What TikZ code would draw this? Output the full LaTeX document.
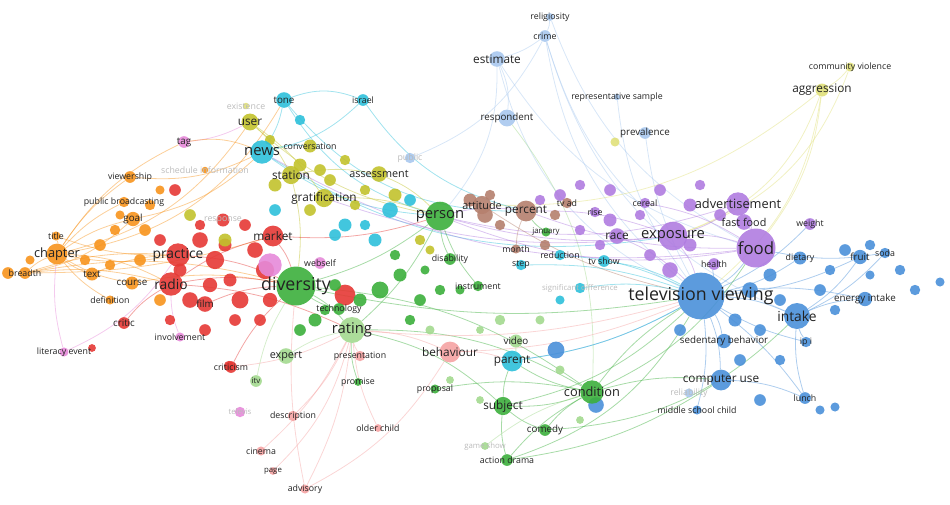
\documentclass[tikz,border=0pt]{standalone}
\usepackage{fontspec}
\setmainfont{Open Sans}
\usetikzlibrary{backgrounds}
\definecolor{cR}{HTML}{E53935}\definecolor{cG}{HTML}{3CAF3C}\definecolor{cB}{HTML}{4A90D9}
\definecolor{cY}{HTML}{C2C22C}\definecolor{cP}{HTML}{B07CE0}\definecolor{cC}{HTML}{2EC0DA}
\definecolor{cO}{HTML}{F7941D}\definecolor{cBr}{HTML}{B5806E}\definecolor{cPk}{HTML}{E68AD9}
\definecolor{cLP}{HTML}{F5A3A3}\definecolor{cLG}{HTML}{A3D98F}\definecolor{cLB}{HTML}{A8C8EE}
\definecolor{cLY}{HTML}{E0E07A}\definecolor{txt}{HTML}{222222}\definecolor{fad}{HTML}{BBBBBB}
\tikzset{dot/.style={circle,inner sep=0pt,draw=none,fill opacity=0.9},
 lbl/.style={text=txt,inner sep=0pt},
 edge/.style={line width=0.8pt,draw opacity=0.45}}
\newcommand\nd[7]{\node[dot,fill=#5,minimum size={1.3*#4pt}] (#1) at (#2,#3) {};
 \node[lbl,font=\fontsize{#7.8}{#7}\selectfont] (#1l) at (#2,#3) {#6};}
\newcommand\smd[4]{\node[dot,fill=#4,minimum size={1.3*#3pt}] at (#1,#2) {};}
\newcommand\edg[4]{\draw[edge,draw=#3] (#1) to[bend left=#4] (#2);}
\begin{document}
\begin{tikzpicture}[x=1pt,y=-1pt]
\useasboundingbox (0,0) rectangle (950,504);
\smd{200}{240}{12}{cR}\smd{215}{260}{14}{cR}\smd{230}{280}{10}{cR}\smd{190}{300}{12}{cR}\smd{240}{300}{13}{cR}\smd{255}{250}{12}{cR}\smd{265}{270}{14}{cR}\smd{225}{245}{10}{cR}\smd{210}{285}{11}{cR}\smd{180}{270}{10}{cR}\smd{245}{225}{9}{cR}\smd{200}{225}{8}{cR}\smd{270}{300}{11}{cR}\smd{235}{320}{9}{cR}\smd{160}{240}{9}{cR}\smd{170}{320}{8}{cR}\smd{205}{330}{9}{cR}\smd{260}{320}{9}{cR}\smd{345}{295}{16}{cR}\smd{175}{190}{9}{cR}\smd{92}{348}{6}{cR}\smd{229}{366}{8}{cR}
\smd{100}{245}{9}{cO}\smd{115}{230}{8}{cO}\smd{145}{230}{9}{cO}\smd{85}{260}{8}{cO}\smd{150}{205}{8}{cO}\smd{160}{190}{7}{cO}\smd{110}{265}{8}{cO}\smd{30}{260}{7}{cO}\smd{140}{260}{9}{cO}\smd{120}{215}{7}{cO}\smd{8}{273}{9}{cO}\smd{160}{300}{9}{cO}
\smd{380}{290}{13}{cG}\smd{400}{275}{10}{cG}\smd{420}{300}{9}{cG}\smd{410}{320}{8}{cG}\smd{440}{290}{8}{cG}\smd{360}{300}{10}{cG}\smd{335}{285}{9}{cG}\smd{325}{310}{8}{cG}\smd{300}{330}{9}{cG}\smd{395}{255}{8}{cG}\smd{460}{290}{7}{cG}\smd{425}{270}{7}{cG}\smd{315}{320}{10}{cG}
\smd{300}{165}{10}{cY}\smd{330}{180}{9}{cY}\smd{345}{160}{8}{cY}\smd{320}{170}{9}{cY}\smd{275}{185}{10}{cY}\smd{310}{210}{9}{cY}\smd{355}{205}{8}{cY}\smd{365}{190}{8}{cY}\smd{395}{195}{10}{cY}\smd{420}{240}{8}{cY}\smd{430}{250}{7}{cY}\smd{270}{140}{8}{cY}\smd{225}{240}{10}{cY}\smd{190}{215}{9}{cY}\smd{615}{142}{7}{cLY}
\smd{390}{210}{12}{cC}\smd{410}{200}{9}{cC}\smd{375}{240}{10}{cC}\smd{345}{225}{10}{cC}\smd{335}{235}{9}{cC}\smd{365}{225}{8}{cC}\smd{300}{120}{8}{cC}\smd{275}{210}{9}{cC}\smd{560}{300}{7}{cC}
\smd{560}{195}{9}{cP}\smd{580}{185}{8}{cP}\smd{610}{190}{9}{cP}\smd{640}{215}{8}{cP}\smd{660}{190}{9}{cP}\smd{690}{205}{10}{cP}\smd{700}{185}{8}{cP}\smd{720}{215}{9}{cP}\smd{610}{220}{10}{cP}\smd{580}{230}{8}{cP}\smd{650}{255}{9}{cP}\smd{690}{245}{10}{cP}\smd{540}{200}{8}{cP}\smd{600}{245}{8}{cP}\smd{270}{265}{18}{cPk}\smd{670}{270}{12}{cP}
\smd{750}{290}{12}{cB}\smd{770}{275}{10}{cB}\smd{780}{300}{9}{cB}\smd{820}{290}{9}{cB}\smd{830}{270}{8}{cB}\smd{845}{250}{9}{cB}\smd{870}{245}{8}{cB}\smd{900}{270}{8}{cB}\smd{915}{290}{8}{cB}\smd{760}{330}{9}{cB}\smd{735}{320}{10}{cB}\smd{740}{360}{9}{cB}\smd{780}{360}{8}{cB}\smd{835}{310}{8}{cB}\smd{680}{330}{9}{cB}\smd{820}{410}{7}{cB}\smd{760}{400}{9}{cB}\smd{870}{275}{7}{cB}\smd{556}{350}{13}{cB}\smd{596}{405}{12}{cB}\smd{940}{282}{7}{cB}\smd{835}{407}{7}{cB}
\smd{470}{200}{10}{cBr}\smd{485}{215}{12}{cBr}\smd{500}{225}{8}{cBr}\smd{490}{195}{8}{cBr}\smd{545}{245}{8}{cBr}\smd{555}{215}{8}{cBr}
\smd{500}{320}{8}{cLG}\smd{480}{330}{6}{cLG}\smd{540}{320}{7}{cLG}\smd{560}{370}{7}{cLG}\smd{580}{420}{6}{cLG}\smd{480}{400}{6}{cLG}\smd{450}{380}{6}{cLG}\smd{430}{330}{7}{cLG}
\nd{religiosity}{550}{17}{6}{cLB}{religiosity}{8}
\nd{crime}{545}{36}{9}{cLB}{crime}{8}
\nd{estimate}{497}{59}{12}{cLB}{estimate}{11}
\nd{repsample}{617}{97}{5}{cLB}{representative sample}{8}
\nd{respondent}{507}{118}{13}{cLB}{respondent}{9}
\nd{prevalence}{645}{133}{9}{cLB}{prevalence}{9}
\nd{public}{410}{158}{8}{cLB}{\textcolor{fad}{public}}{8}
\nd{commviol}{850}{67}{7}{cLY}{community violence}{8}
\nd{aggression}{822}{90}{10}{cLY}{aggression}{11}
\nd{tone}{284}{100}{12}{cC}{tone}{9}
\nd{israel}{363}{100}{9}{cC}{israel}{8}
\nd{existence}{246}{106}{5}{cLY}{\textcolor{fad}{existence}}{8}
\nd{user}{250}{122}{13}{cY}{user}{11}
\nd{tag}{184}{142}{9}{cPk}{tag}{9}
\nd{news}{262}{152}{18}{cC}{news}{14}
\nd{conversation}{310}{146}{10}{cY}{conversation}{8}
\nd{schedinfo}{205}{170}{5}{cO}{\textcolor{fad}{schedule information}}{8}
\nd{station}{291}{175}{14}{cY}{station}{11}
\nd{assessment}{379}{174}{12}{cY}{assessment}{10}
\nd{gratification}{324}{198}{14}{cY}{gratification}{11}
\nd{viewership}{130}{177}{9}{cO}{viewership}{8}
\nd{pubbroad}{124}{202}{8}{cO}{public broadcasting}{8}
\nd{goal}{133}{219}{11}{cO}{goal}{9}
\nd{response}{223}{220}{10}{cR}{\textcolor{fad}{response}}{8}
\nd{title}{56}{236}{7}{cO}{title}{8}
\nd{chapter}{57}{254}{16}{cO}{chapter}{12}
\nd{breadth}{25}{273}{9}{cO}{breadth}{8}
\nd{txtnode}{92}{274}{10}{cO}{text}{9}
\nd{practice}{178}{255}{18}{cR}{practice}{13}
\nd{course}{132}{283}{10}{cO}{course}{9}
\nd{radio}{171}{284}{18}{cR}{radio}{13}
\nd{definition}{110}{300}{7}{cO}{definition}{8}
\nd{market}{273}{236}{16}{cR}{market}{11}
\nd{diversity}{296}{286}{30}{cG}{diversity}{17}
\nd{webself}{320}{263}{9}{cPk}{webself}{8}
\nd{film}{205}{304}{12}{cR}{film}{9}
\nd{critic}{124}{323}{9}{cR}{critic}{9}
\nd{litevent}{64}{352}{7}{cPk}{literacy event}{8}
\nd{involvement}{180}{337}{7}{cPk}{involvement}{8}
\nd{criticism}{231}{367}{9}{cR}{criticism}{8}
\nd{itv}{256}{381}{9}{cLG}{itv}{7}
\nd{expert}{286}{356}{12}{cLG}{expert}{10}
\nd{technology}{339}{309}{9}{cG}{technology}{8}
\nd{rating}{352}{330}{20}{cLG}{rating}{14}
\nd{presentation}{360}{356}{8}{cLP}{presentation}{8}
\nd{promise}{358}{382}{6}{cG}{promise}{8}
\nd{televis}{240}{412}{8}{cPk}{\textcolor{fad}{televis}}{7}
\nd{description}{293}{416}{8}{cLP}{description}{8}
\nd{olderchild}{378}{428}{6}{cLP}{older child}{8}
\nd{cinema}{261}{451}{7}{cLP}{cinema}{8}
\nd{page}{273}{471}{6}{cLP}{page}{7}
\nd{advisory}{305}{489}{7}{cLP}{advisory}{8}
\nd{person}{440}{216}{22}{cG}{person}{14}
\nd{attitude}{482}{205}{14}{cBr}{attitude}{10}
\nd{percent}{526}{211}{16}{cBr}{percent}{11}
\nd{tvad}{567}{203}{8}{cBr}{tv ad}{8}
\nd{rise}{595}{212}{8}{cP}{rise}{8}
\nd{cereal}{645}{203}{8}{cP}{cereal}{8}
\nd{race}{617}{236}{12}{cP}{race}{11}
\nd{advertisement}{738}{204}{18}{cP}{advertisement}{12}
\nd{fastfood}{744}{222}{12}{cP}{fast food}{10}
\nd{exposure}{673}{236}{22}{cP}{exposure}{14}
\nd{food}{756}{248}{30}{cP}{food}{16}
\nd{weight}{810}{224}{9}{cP}{weight}{8}
\nd{dietary}{800}{258}{10}{cB}{dietary}{8}
\nd{fruit}{860}{257}{11}{cB}{fruit}{9}
\nd{soda}{885}{253}{8}{cB}{soda}{8}
\nd{energy}{865}{299}{11}{cB}{energy intake}{9}
\nd{intake}{797}{316}{20}{cB}{intake}{13}
\nd{ipi}{806}{342}{8}{cB}{ip i}{8}
\nd{sedentary}{724}{341}{11}{cB}{sedentary behavior}{9}
\nd{tvviewing}{701}{296}{36}{cB}{television viewing}{17}
\nd{health}{714}{264}{9}{cP}{health}{8}
\nd{tvshow}{604}{261}{9}{cC}{tv show}{8}
\nd{reduction}{560}{255}{8}{cC}{reduction}{8}
\nd{stepnode}{521}{265}{8}{cC}{step}{8}
\nd{month}{516}{249}{7}{cBr}{month}{8}
\nd{january}{546}{232}{7}{cG}{january}{7}
\nd{disability}{450}{259}{9}{cG}{disability}{8}
\nd{instrument}{478}{286}{8}{cG}{instrument}{8}
\nd{sigdiff}{580}{288}{8}{cC}{\textcolor{fad}{significant difference}}{7}
\nd{video}{516}{341}{10}{cLG}{video}{9}
\nd{parent}{512}{361}{16}{cC}{parent}{11}
\nd{behaviour}{450}{352}{16}{cLP}{behaviour}{11}
\nd{proposal}{435}{389}{7}{cG}{proposal}{8}
\nd{subject}{503}{406}{14}{cG}{subject}{11}
\nd{condition}{592}{392}{18}{cG}{condition}{12}
\nd{comedy}{545}{430}{9}{cG}{comedy}{9}
\nd{gameshow}{485}{446}{6}{cLG}{\textcolor{fad}{game show}}{7}
\nd{actiondrama}{507}{460}{9}{cG}{action drama}{8}
\nd{computeruse}{721}{380}{16}{cB}{computer use}{11}
\nd{reliability}{689}{393}{7}{cLB}{\textcolor{fad}{reliability}}{8}
\nd{middleschool}{697}{410}{7}{cB}{middle school child}{8}
\nd{lunch}{805}{398}{9}{cB}{lunch}{8}
\begin{scope}[on background layer]
\edg{religiosity}{crime}{cLB}{10}\edg{crime}{estimate}{cLB}{10}\edg{estimate}{respondent}{cLB}{15}\edg{estimate}{person}{cLB}{20}\edg{crime}{tvviewing}{cLB}{-20}\edg{crime}{exposure}{cLB}{-15}\edg{estimate}{tvviewing}{cLB}{-25}\edg{repsample}{tvviewing}{cLB}{-15}\edg{prevalence}{tvviewing}{cLB}{-10}\edg{respondent}{condition}{cLG}{20}\edg{crime}{public}{cLB}{20}\edg{religiosity}{food}{cLB}{-20}\edg{crime}{intake}{cLB}{-25}\edg{estimate}{food}{cLB}{-20}
\edg{commviol}{aggression}{cLY}{10}\edg{aggression}{tvviewing}{cLY}{20}\edg{aggression}{exposure}{cLY}{25}\edg{aggression}{food}{cLY}{15}\edg{aggression}{attitude}{cLY}{20}\edg{commviol}{exposure}{cLY}{25}
\edg{tone}{news}{cC}{10}\edg{israel}{news}{cC}{15}\edg{tone}{israel}{cC}{20}\edg{tone}{person}{cC}{-20}\edg{news}{person}{cC}{-15}\edg{news}{conversation}{cC}{10}\edg{israel}{percent}{cC}{-20}\edg{news}{exposure}{cC}{-20}\edg{tone}{percent}{cC}{-25}
\edg{user}{station}{cY}{10}\edg{user}{gratification}{cY}{10}\edg{station}{assessment}{cY}{10}\edg{gratification}{person}{cY}{10}\edg{assessment}{person}{cY}{10}\edg{user}{tag}{cPk}{10}\edg{station}{diversity}{cY}{10}\edg{user}{person}{cY}{-15}
\edg{tag}{chapter}{cO}{-15}\edg{viewership}{chapter}{cO}{-10}\edg{pubbroad}{chapter}{cO}{-10}\edg{goal}{chapter}{cO}{-10}\edg{title}{chapter}{cO}{10}\edg{breadth}{chapter}{cO}{10}\edg{txtnode}{chapter}{cO}{10}\edg{course}{chapter}{cO}{10}\edg{practice}{chapter}{cO}{10}\edg{breadth}{practice}{cO}{10}\edg{breadth}{radio}{cO}{10}\edg{txtnode}{practice}{cO}{10}\edg{definition}{chapter}{cO}{10}\edg{goal}{news}{cO}{-15}\edg{viewership}{news}{cO}{-15}\edg{tag}{news}{cO}{15}\edg{chapter}{user}{cO}{-20}\edg{breadth}{goal}{cO}{-15}\edg{title}{practice}{cO}{-10}\edg{course}{diversity}{cO}{10}\edg{breadth}{diversity}{cO}{12}\edg{chapter}{tone}{cO}{-25}\edg{breadth}{market}{cO}{-8}\edg{chapter}{radio}{cO}{12}
\edg{practice}{radio}{cR}{10}\edg{radio}{market}{cR}{10}\edg{radio}{diversity}{cR}{10}\edg{market}{diversity}{cR}{10}\edg{film}{diversity}{cR}{10}\edg{critic}{radio}{cR}{10}\edg{criticism}{diversity}{cR}{10}\edg{radio}{rating}{cR}{10}\edg{practice}{diversity}{cR}{10}\edg{market}{person}{cR}{-10}\edg{involvement}{radio}{cPk}{10}\edg{litevent}{practice}{cPk}{-15}\edg{litevent}{chapter}{cPk}{10}
\edg{diversity}{rating}{cG}{10}\edg{diversity}{person}{cG}{-10}\edg{rating}{person}{cG}{-10}\edg{expert}{rating}{cLG}{10}\edg{itv}{diversity}{cLG}{10}\edg{rating}{condition}{cG}{15}\edg{rating}{subject}{cG}{15}\edg{rating}{behaviour}{cLP}{10}\edg{technology}{diversity}{cG}{10}\edg{diversity}{tvviewing}{cG}{-10}\edg{rating}{tvviewing}{cLP}{-10}
\edg{rating}{advisory}{cLP}{10}\edg{rating}{cinema}{cLP}{10}\edg{rating}{page}{cLP}{15}\edg{rating}{olderchild}{cLP}{-10}\edg{rating}{description}{cLP}{10}\edg{presentation}{rating}{cLP}{10}\edg{promise}{rating}{cG}{10}\edg{rating}{criticism}{cLP}{10}\edg{advisory}{behaviour}{cLP}{-15}\edg{advisory}{diversity}{cLP}{8}
\edg{person}{percent}{cP}{10}\edg{person}{exposure}{cP}{-10}\edg{person}{food}{cP}{-15}\edg{person}{advertisement}{cP}{-15}\edg{percent}{exposure}{cP}{10}\edg{percent}{food}{cP}{-10}\edg{attitude}{tvviewing}{cBr}{-10}\edg{exposure}{food}{cP}{10}\edg{advertisement}{food}{cP}{10}\edg{fastfood}{food}{cP}{10}\edg{cereal}{food}{cP}{10}\edg{race}{tvviewing}{cP}{10}\edg{exposure}{tvviewing}{cP}{10}\edg{advertisement}{exposure}{cP}{10}\edg{gratification}{exposure}{cP}{-12}\edg{news}{food}{cP}{-18}
\edg{food}{tvviewing}{cB}{10}\edg{tvviewing}{intake}{cB}{10}\edg{intake}{energy}{cB}{10}\edg{fruit}{intake}{cB}{10}\edg{soda}{intake}{cB}{10}\edg{dietary}{tvviewing}{cB}{10}\edg{tvviewing}{sedentary}{cB}{10}\edg{tvviewing}{computeruse}{cB}{10}\edg{computeruse}{lunch}{cB}{10}\edg{intake}{lunch}{cB}{-10}\edg{ipi}{intake}{cB}{10}\edg{tvviewing}{energy}{cB}{10}\edg{tvviewing}{fruit}{cB}{-10}\edg{food}{soda}{cB}{-10}\edg{weight}{tvviewing}{cB}{10}\edg{tvviewing}{middleschool}{cB}{10}\edg{tvviewing}{parent}{cB}{10}\edg{health}{tvviewing}{cB}{10}\edg{tvviewing}{lunch}{cB}{8}\edg{tvviewing}{ipi}{cB}{-8}
\edg{condition}{tvviewing}{cG}{10}\edg{condition}{subject}{cG}{10}\edg{comedy}{condition}{cG}{10}\edg{actiondrama}{condition}{cG}{10}\edg{actiondrama}{subject}{cG}{10}\edg{subject}{parent}{cG}{10}\edg{condition}{parent}{cG}{10}\edg{proposal}{condition}{cG}{10}\edg{comedy}{subject}{cG}{10}\edg{condition}{computeruse}{cG}{10}\edg{condition}{food}{cG}{-15}\edg{subject}{tvviewing}{cG}{-15}\edg{gameshow}{condition}{cLG}{10}\edg{actiondrama}{tvviewing}{cG}{-20}\edg{comedy}{intake}{cG}{-20}\edg{actiondrama}{computeruse}{cG}{-12}
\edg{parent}{tvviewing}{cC}{-10}\edg{video}{parent}{cLG}{10}\edg{behaviour}{parent}{cLP}{10}\edg{behaviour}{tvviewing}{cLP}{-10}\edg{stepnode}{tvviewing}{cC}{10}\edg{tvshow}{tvviewing}{cC}{10}\edg{reduction}{tvviewing}{cC}{10}\edg{sigdiff}{tvviewing}{cC}{10}\edg{disability}{person}{cG}{10}\edg{instrument}{person}{cG}{10}\edg{january}{percent}{cG}{10}\edg{month}{percent}{cBr}{10}\edg{diversity}{condition}{cG}{15}
\end{scope}
\end{tikzpicture}
\end{document}
